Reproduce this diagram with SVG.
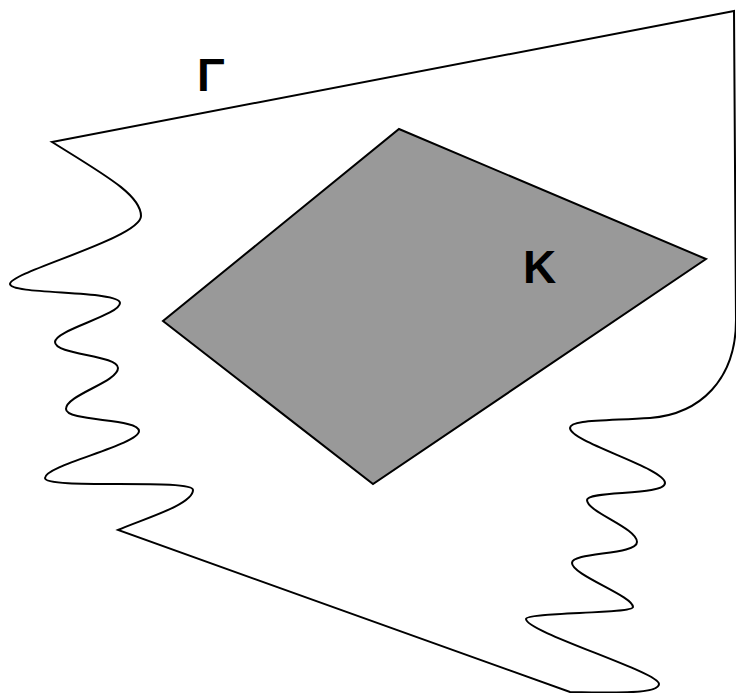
<svg xmlns="http://www.w3.org/2000/svg" width="736" height="693" viewBox="0 0 736 693">
<style>
.ln{fill:none;stroke:#000;stroke-width:2;stroke-linejoin:miter}
.lbl{font-family:"Liberation Sans",Arial,sans-serif;font-weight:bold;font-size:46px;fill:#000}
</style>
<rect width="736" height="693" fill="#fff"/>
<g id="gamma">
<path class="ln" d="M734,11 L52,142
C105,175 141,195 141,216
C141,238 10,272 10,284
C10,295 120,290 120,303
C120,315 55,330 55,342
C55,355 118,355 118,368
C118,382 66,395 66,409
C66,422 139,418 139,431
C139,445 45,465 45,478
C45,490 193,478 193,490
C193,505 140,520 118,530
L570,692
C615,693 659,694 659,684
C659,672 526,632 526,619
C526,612 633,614 633,607
C633,596 572,575 572,563
C572,552 637,555 637,542
C637,528 587,512 587,500
C587,490 665,496 665,483
C665,468 570,442 570,428
C570,420 600,421 650,418
C700,414 736,380 736,320 Z"/>
<text class="lbl" x="197" y="91">Γ</text>
</g>
<g id="K">
<polygon points="399,129 706,259 373,484 163,321" fill="#999" stroke="#000" stroke-width="2"/>
<text class="lbl" x="523" y="283">K</text>
</g>
</svg>
